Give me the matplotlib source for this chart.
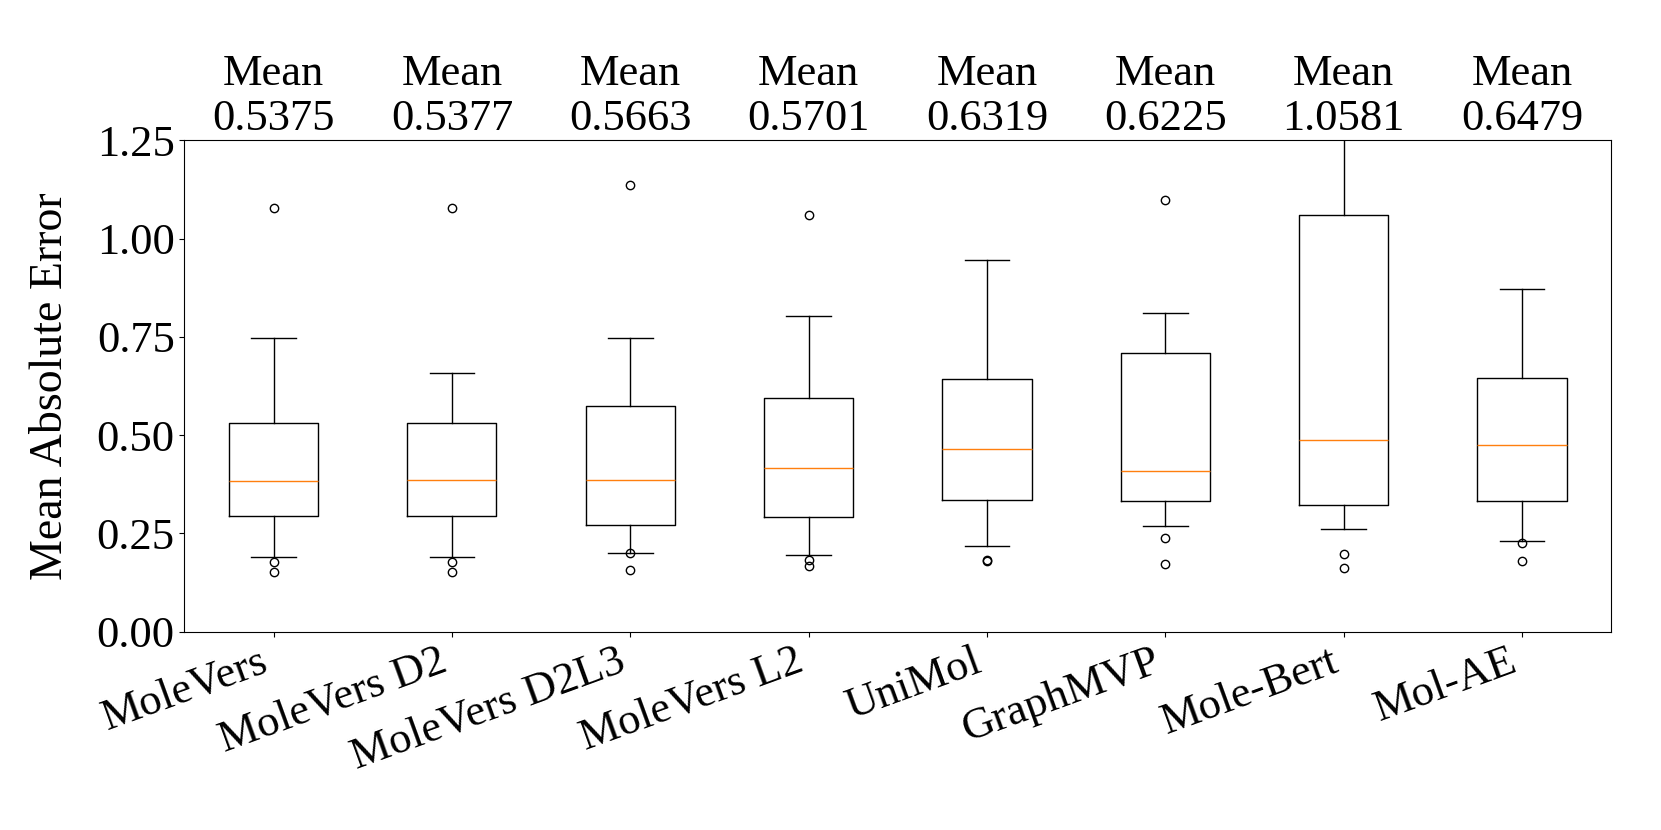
import matplotlib
matplotlib.use("Agg")
import matplotlib.pyplot as plt
import matplotlib.transforms as mtransforms

plt.rcParams['font.family'] = ['Liberation Serif', 'DejaVu Serif']

models = ["MoleVers", "MoleVers D2", "MoleVers D2L3", "MoleVers L2",
          "UniMol", "GraphMVP", "Mole-Bert", "Mol-AE"]
means = [0.5375, 0.5377, 0.5663, 0.5701, 0.6319, 0.6225, 1.0581, 0.6479]

# box statistics
whislo = [0.190, 0.190, 0.201, 0.194, 0.219, 0.269, 0.261, 0.230]
q1     = [0.295, 0.295, 0.272, 0.292, 0.334, 0.332, 0.323, 0.333]
med    = [0.382, 0.386, 0.387, 0.417, 0.465, 0.408, 0.488, 0.475]
q3     = [0.531, 0.531, 0.574, 0.594, 0.643, 0.710, 1.059, 0.644]
whishi = [0.747, 0.658, 0.747, 0.802, 0.945, 0.810, 1.320, 0.872]
fliers = [
    [1.077, 0.178, 0.151],
    [1.077, 0.178, 0.151],
    [1.135, 0.199, 0.157],
    [1.061, 0.183, 0.166],
    [0.181, 0.179],
    [1.098, 0.238, 0.172],
    [0.198, 0.162],
    [0.226, 0.180],
]

stats = []
for i in range(len(models)):
    stats.append({"label": models[i], "whislo": whislo[i], "q1": q1[i],
                  "med": med[i], "q3": q3[i], "whishi": whishi[i],
                  "fliers": fliers[i]})

fig = plt.figure(figsize=(16.61, 8.30), dpi=100)
ax = fig.add_axes([0.111, 0.239, 0.859, 0.592])

ax.bxp(stats, showfliers=True)
ax.set_ylim(0, 1.25)
yt = [0.0, 0.25, 0.5, 0.75, 1.0, 1.25]
ax.set_yticks(yt)
ax.set_yticklabels([f"{v:.2f}" for v in yt])
ax.tick_params(axis="y", labelsize=32)
ax.set_xticks(range(1, len(models) + 1))
ax.set_xticklabels(models, rotation=20, ha="right", fontsize=32)
ax.set_ylabel("Mean Absolute Error", fontsize=33, labelpad=18)

# mean labels above each box
trans = mtransforms.blended_transform_factory(ax.transData, ax.transAxes)
for i, m in enumerate(means):
    ax.text(i + 1, 1.02, f"Mean\n{m:.4f}", transform=trans,
            ha="center", va="baseline", fontsize=32, linespacing=1.18)

plt.savefig("out.png", dpi=100)
plt.close()
